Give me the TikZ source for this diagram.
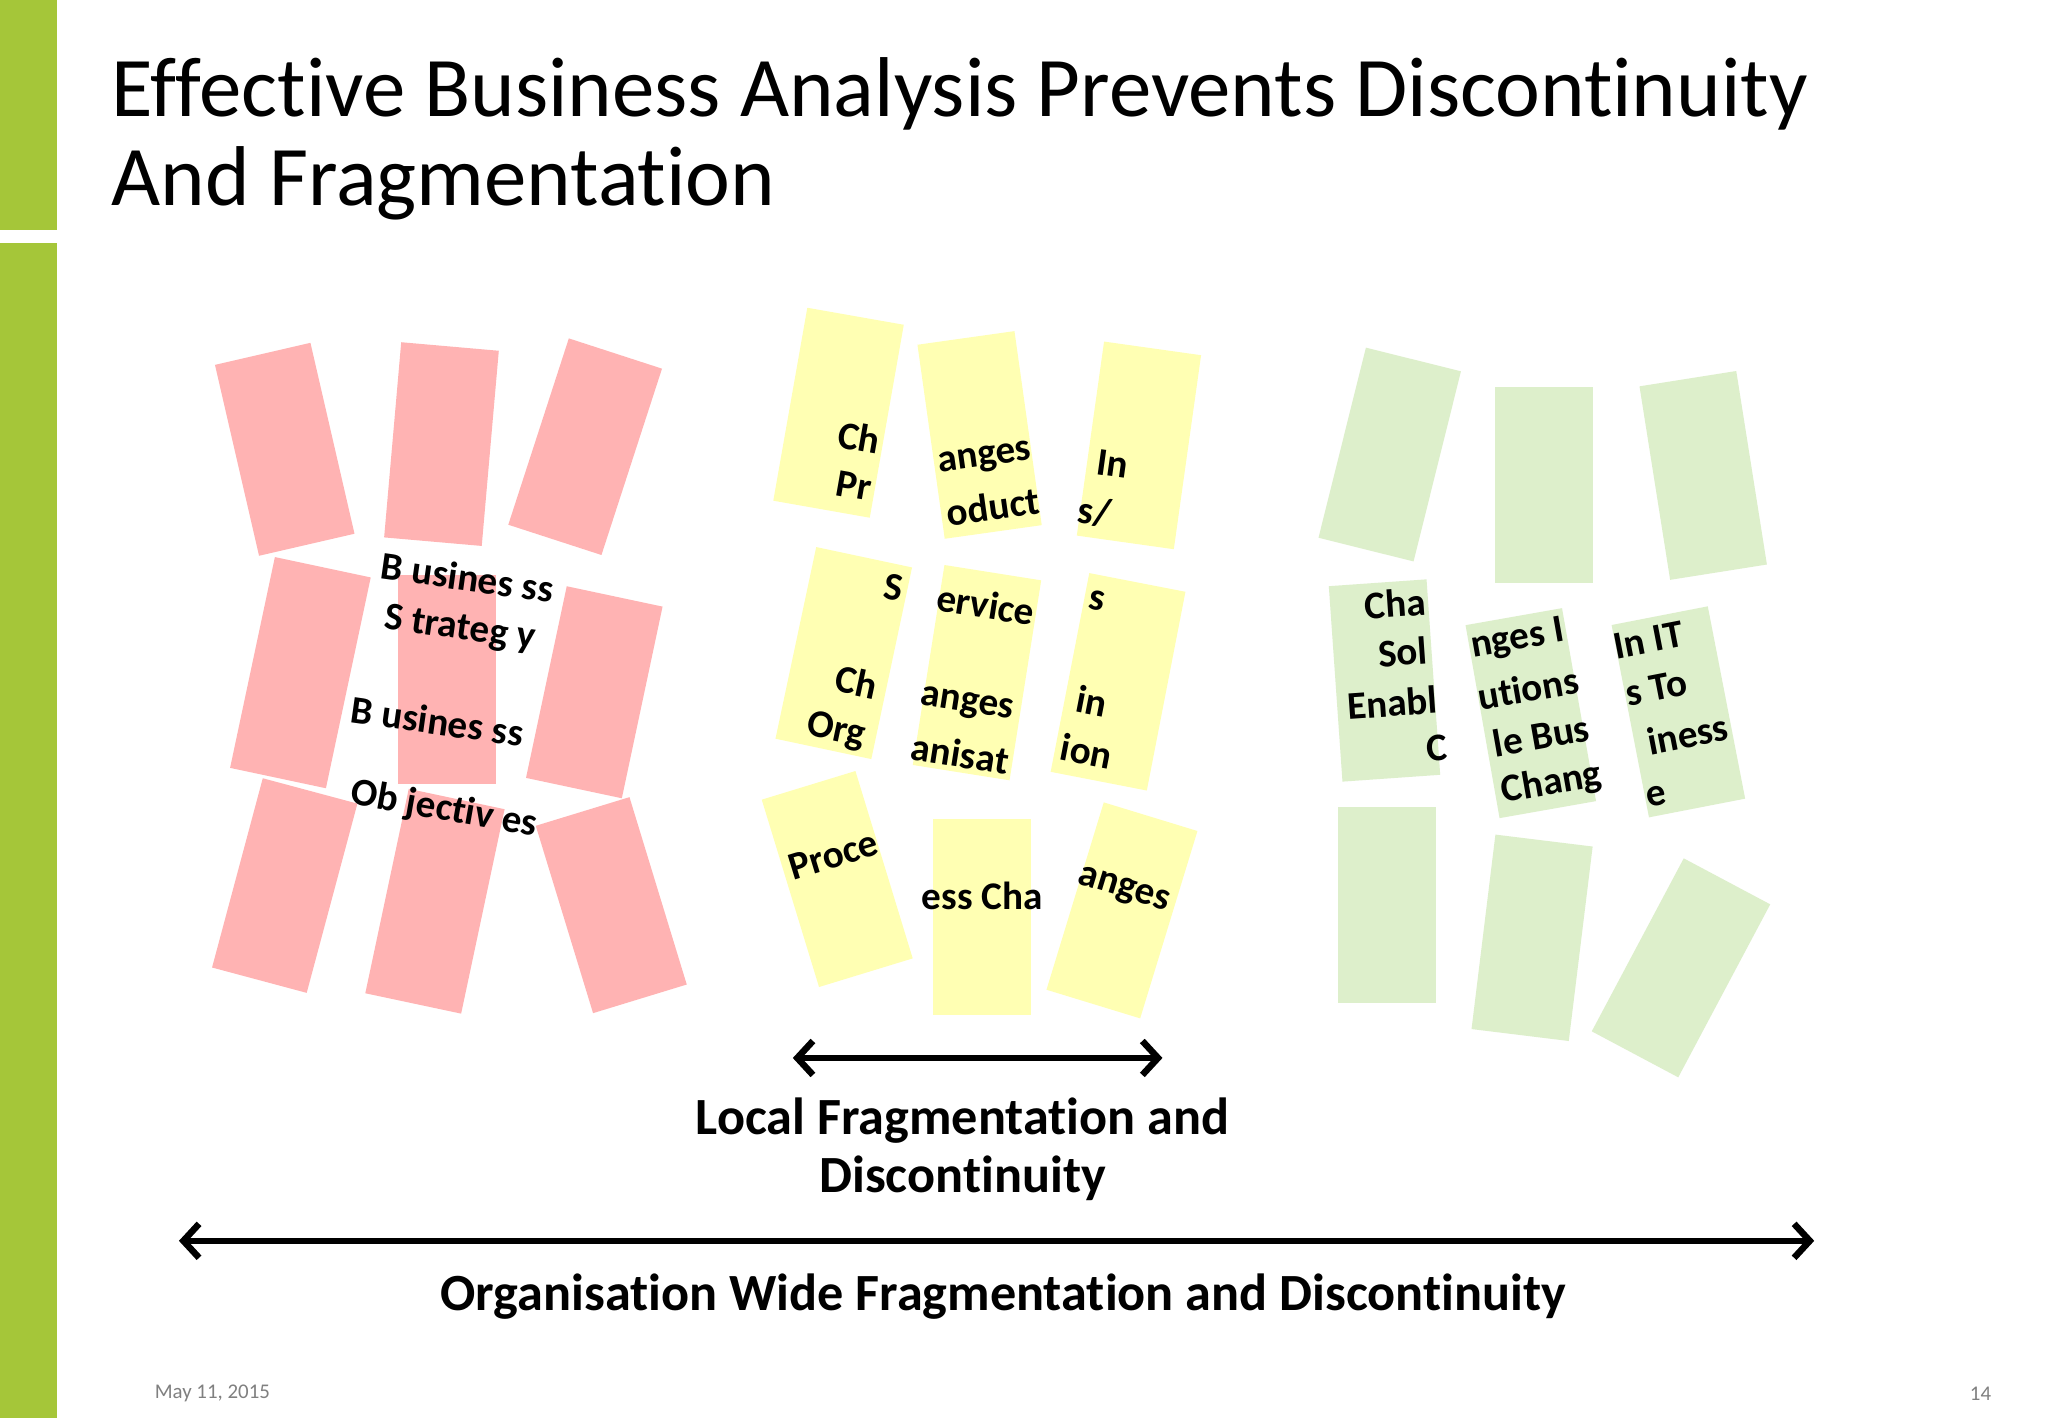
\documentclass[tikz,border=0pt]{standalone}
\usepackage{fontspec}
\setmainfont{Carlito}[Ligatures=NoCommon]
\usetikzlibrary{arrows.meta}
\definecolor{barg}{HTML}{A5C639}
\definecolor{redf}{HTML}{FFB3B3}
\definecolor{yelf}{HTML}{FFFFB3}
\definecolor{grnf}{HTML}{DDEFCB}
\tikzset{
 card/.style={minimum width=75pt,minimum height=150pt,inner sep=0pt,draw=none},
 frag/.style={font=\fontsize{30}{32}\selectfont\bfseries,inner sep=0pt},
 bigarrow/.style={line width=5pt,{Straight Barb[length=12pt,width=26pt]}-{Straight Barb[length=12pt,width=26pt]}},
 lbl/.style={font=\fontsize{40}{44}\selectfont\bfseries,align=center}
}
\begin{document}
\begin{tikzpicture}[x=1pt,y=-1pt]
\useasboundingbox (0,0) rectangle (1568,1086);
\fill[white] (0,0) rectangle (1568,1086);
\fill[barg] (0,0) rectangle (44,176);
\fill[barg] (0,186) rectangle (44,1086);
\node[anchor=west,font=\fontsize{65}{70}\selectfont] (t1) at (82,72) {Effective Business Analysis Prevents Discontinuity};
\node[anchor=west,font=\fontsize{65}{70}\selectfont] (t2) at (82,140) {And Fragmentation};
% red
\node[card,fill=redf,rotate=13] (r1) at (218,344) {};
\node[card,fill=redf,rotate=-5] (r2) at (338,340) {};
\node[card,fill=redf,rotate=-18] (r3) at (448,342) {};
\node[card,fill=redf,rotate=-12,minimum height=165pt] (r4) at (230,515) {};
\node[card,fill=redf,minimum height=160pt] (r5) at (342,520) {};
\node[card,fill=redf,rotate=-12] (r6) at (455,530) {};
\node[card,fill=redf,rotate=-15] (r7) at (218,678) {};
\node[card,fill=redf,rotate=-12,minimum height=160pt] (r8) at (333,690) {};
\node[card,fill=redf,rotate=17] (r9) at (468,693) {};
\node[frag,rotate=-8] (rt1) at (358,442) {B usines ss};
\node[frag,rotate=-8] (rt2) at (352,482) {S trateg y};
\node[frag,rotate=-8] (rt3) at (335,552) {B usines ss};
\node[frag,rotate=-10] (rt4) at (340,620) {Ob jectiv es};
% yellow
\node[card,fill=yelf,rotate=-10] (y1) at (642,316) {};
\node[card,fill=yelf,rotate=8] (y2) at (750,333) {};
\node[card,fill=yelf,rotate=-8] (y3) at (872,341) {};
\node[card,fill=yelf,rotate=-12] (y4) at (646,500) {};
\node[card,fill=yelf,rotate=-9,minimum height=155pt] (y5) at (748,515) {};
\node[card,fill=yelf,rotate=-11,minimum height=155pt] (y6) at (856,522) {};
\node[card,fill=yelf,rotate=17] (y7) at (641,673) {};
\node[card,fill=yelf] (y8) at (752,702) {};
\node[card,fill=yelf,rotate=-17] (y9) at (859,697) {};
\node[frag,rotate=-10] at (658,335) {Ch};
\node[frag,rotate=-10] at (654,372) {Pr};
\node[frag,rotate=8] at (754,352) {anges};
\node[frag,rotate=8] at (760,388) {oduct};
\node[frag,rotate=-8] at (852,355) {In};
\node[frag,rotate=-8] at (838,392) {s/};
\node[frag,rotate=-9] at (684,450) {S};
\node[frag,rotate=-9] at (755,463) {ervice};
\node[frag,rotate=-11] at (840,460) {s};
\node[frag,rotate=-12] at (656,522) {Ch};
\node[frag,rotate=-12] at (640,560) {Org};
\node[frag,rotate=-9] at (740,540) {anges};
\node[frag,rotate=-9] at (735,577) {anisat};
\node[frag,rotate=-11] at (836,537) {in};
\node[frag,rotate=-11] at (832,575) {ion};
\node[frag,rotate=17] at (638,655) {Proce};
\node[frag] at (752,686) {ess Cha};
\node[frag,rotate=-17] at (860,682) {anges};
% green
\node[card,fill=grnf,rotate=-14] (g1) at (1064,348) {};
\node[card,fill=grnf] (g2) at (1182,371) {};
\node[card,fill=grnf,rotate=9] (g3) at (1304,364) {};
\node[card,fill=grnf,rotate=4] (g4) at (1060,521) {};
\node[card,fill=grnf,rotate=10] (g5) at (1172,546) {};
\node[card,fill=grnf,rotate=11] (g6) at (1285,545) {};
\node[card,fill=grnf] (g7) at (1062,693) {};
\node[card,fill=grnf,rotate=-7] (g8) at (1173,718) {};
\node[card,fill=grnf,rotate=-28] (g9) at (1287,741) {};
\node[frag,rotate=4] at (1068,462) {Cha};
\node[frag,rotate=4] at (1074,499) {Sol};
\node[frag,rotate=4] at (1066,538) {Enabl};
\node[frag,rotate=4] at (1100,573) {C};
\node[frag,rotate=10] at (1162,490) {nges I};
\node[frag,rotate=10] at (1170,527) {utions};
\node[frag,rotate=10] at (1180,563) {le Bus};
\node[frag,rotate=10] at (1188,600) {Chang};
\node[frag,rotate=11] at (1262,490) {In IT};
\node[frag,rotate=11] at (1268,527) {s To};
\node[frag,rotate=11] at (1292,562) {iness};
\node[frag,rotate=11] at (1268,610) {e};
% arrows
\coordinate (la) at (607,810); \coordinate (lb) at (890,810);
\draw[bigarrow] (la) -- (lb);
\node[lbl] (ll) at (737,880) {Local Fragmentation and\\Discontinuity};
\coordinate (oa) at (137,950); \coordinate (ob) at (1389,950);
\draw[bigarrow] (oa) -- (ob);
\node[lbl] (ol) at (768,993) {Organisation Wide Fragmentation and Discontinuity};
\node[anchor=west,text=gray,font=\fontsize{16}{18}\selectfont] (d) at (115,1067) {May 11, 2015};
\node[anchor=east,text=gray,font=\fontsize{16}{18}\selectfont] (p) at (1528,1067) {14};
\end{tikzpicture}
\end{document}
